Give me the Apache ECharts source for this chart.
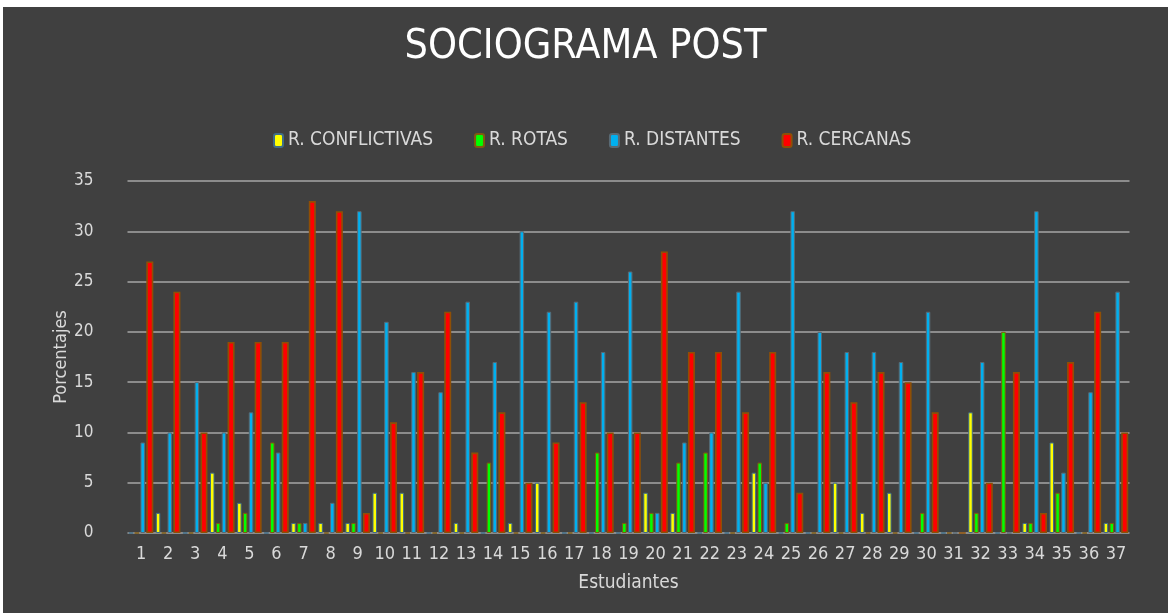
<!DOCTYPE html>
<html>
<head>
<meta charset="utf-8">
<script src="https://cdn.jsdelivr.net/npm/echarts@6/dist/echarts.min.js"></script>
<style>
  html, body { margin: 0; padding: 0; background: #ffffff; }
  #main { position: absolute; left: 3px; top: 7px; width: 1165px; height: 606px; background: #404040; }
</style>
</head>
<body>
<div id="main"></div>
<script>
var estudiantes = [];
for (var i = 1; i <= 37; i++) { estudiantes.push(String(i)); }

// valores (porcentajes)
var conflictivas = [0, 2, 0, 6, 3, 0, 1, 1, 1, 4, 4, 0, 1, 0, 1, 5, 0, 0, 0, 4, 2, 0, 0, 6, 0, 0, 5, 2, 4, 0, 0, 12, 0, 1, 9, 0, 1];
var rotas = [0, 0, 0, 1, 2, 9, 1, 0, 1, 0, 0, 0, 0, 7, 0, 0, 0, 8, 1, 2, 7, 8, 0, 7, 1, 0, 0, 0, 0, 2, 0, 2, 20, 1, 4, 0, 1];
var distantes = [9, 10, 15, 10, 12, 8, 1, 3, 32, 21, 16, 14, 23, 17, 30, 22, 23, 18, 26, 2, 9, 10, 24, 5, 32, 20, 18, 18, 17, 22, 0, 17, 0, 32, 6, 14, 24];
var cercanas = [27, 24, 10, 19, 19, 19, 33, 32, 2, 11, 16, 22, 8, 12, 5, 9, 13, 10, 10, 28, 18, 18, 12, 18, 4, 16, 13, 16, 15, 12, 0, 5, 16, 2, 17, 22, 10];

var fuente = "'Liberation Sans Narrow', 'DejaVu Sans Condensed', sans-serif";
var txt = '#d9d9d9';

var myChart = echarts.init(document.getElementById('main'));

function serie(nombre, datos, color, borde, ancho, grosor) {
    return {
        name: nombre,
        type: 'bar',
        barWidth: ancho,
        barGap: '30%',
        data: datos,
        itemStyle: { color: color, borderColor: borde, borderWidth: grosor }
    };
}

var option = {
    backgroundColor: '#404040',
    textStyle: { fontFamily: fuente },
    title: {
        text: 'SOCIOGRAMA POST',
        left: 'center',
        top: 15,
        textStyle: { color: '#ffffff', fontSize: 41, fontWeight: 'normal', fontFamily: fuente }
    },
    legend: {
        top: 119,
        left: 265,
        itemWidth: 9,
        itemHeight: 13,
        itemGap: 41,
        textStyle: { color: txt, fontSize: 19, fontFamily: fuente },
        data: ['R. CONFLICTIVAS', 'R. ROTAS', 'R. DISTANTES', 'R. CERCANAS']
    },
    grid: {
        left: 124.5,
        right: 38.5,
        top: 174,
        bottom: 80
    },
    xAxis: {
        type: 'category',
        data: estudiantes,
        name: 'Estudiantes',
        nameLocation: 'middle',
        nameGap: 41,
        nameTextStyle: { color: txt, fontSize: 19, fontFamily: fuente },
        axisLine: { show: false },
        axisTick: { show: false },
        axisLabel: { color: txt, fontSize: 18, margin: 12, interval: 0, fontFamily: fuente }
    },
    yAxis: {
        type: 'value',
        min: 0,
        max: 35,
        interval: 5,
        name: 'Porcentajes',
        nameLocation: 'middle',
        nameGap: 57,
        nameMoveOverlap: false,
        nameTextStyle: { color: txt, fontSize: 18, fontFamily: fuente },
        axisLine: { show: false },
        axisTick: { show: false },
        axisLabel: { color: txt, fontSize: 17, margin: 34, fontFamily: fuente },
        splitLine: { lineStyle: { color: '#8c8c8c', width: 2 } }
    },
    series: [
        serie('R. CONFLICTIVAS', conflictivas, '#ffff00', '#3f6d87', 4.5, 1),
        serie('R. ROTAS', rotas, '#00ff00', '#7f5a10', 4.5, 1),
        serie('R. DISTANTES', distantes, '#00b0f0', '#5a6a74', 4.5, 1),
        serie('R. CERCANAS', cercanas, '#ff0000', '#8f4f05', 7, 1.6)
    ]
};

myChart.setOption(option);
</script>
</body>
</html>
